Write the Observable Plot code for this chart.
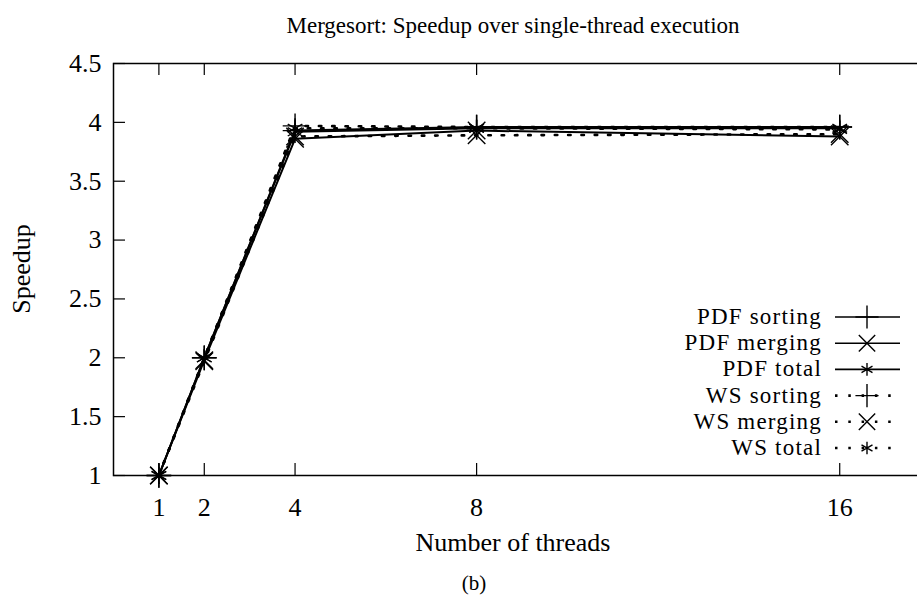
<!DOCTYPE html>
<html><head><meta charset="utf-8">
<script src="https://cdn.jsdelivr.net/npm/d3@7"></script>
<script src="https://cdn.jsdelivr.net/npm/@observablehq/plot@0.6"></script>
<style>html,body{margin:0;padding:0;overflow:hidden;background:#fff;width:917px;height:597px}
#chart svg{max-width:none !important;display:block}</style>
</head><body><div id="chart"></div>
<script>
const threads = [1, 2, 4, 8, 16];
const pdfSorting = [1, 2.00, 3.93, 3.96, 3.96];
const pdfMerging = [1, 1.98, 3.86, 3.93, 3.88];
const pdfTotal   = [1, 2.00, 3.92, 3.95, 3.95];
const wsSorting  = [1, 2.00, 3.97, 3.96, 3.96];
const wsMerging  = [1, 1.97, 3.88, 3.89, 3.90];
const wsTotal    = [1, 2.00, 3.95, 3.95, 3.94];
const seriesNames = ["PDF sorting", "PDF merging", "PDF total", "WS sorting", "WS merging", "WS total"];
const seriesValues = [pdfSorting, pdfMerging, pdfTotal, wsSorting, wsMerging, wsTotal];
const seriesSymbols = ["plus", "times", "asterisk", "plus", "times", "asterisk"];
const seriesDotted = [false, false, false, true, true, true];
const xTicks = [1, 2, 4, 8, 16];
const yTicks = [1, 1.5, 2, 2.5, 3, 3.5, 4, 4.5];
const yTickLabels = ["1", "1.5", "2", "2.5", "3", "3.5", "4", "4.5"];
const titleText = "Mergesort: Speedup over single-thread execution";
const xLabel = "Number of threads";
const yLabel = "Speedup";
const caption = "(b)";

const W = 931, H = 597, mL = 113, mR = 1, mT = 63, mB = 122;
const fh = H - mT - mB, fw = W - mL - mR;
const FONT = "'Liberation Serif', 'Times New Roman', serif";
const DOT = "2.5 10.8";

const data = [];
seriesNames.forEach((name, i) => threads.forEach((t, j) => data.push({
  series: name, threads: t, speedup: seriesValues[i][j], symbol: seriesSymbols[i], dotted: seriesDotted[i]
})));

const dotMarks = ["plus", "times", "asterisk"].map(s =>
  Plot.dot(data.filter(d => d.symbol === s), {x: "threads", y: "speedup", symbol: s, r: 8, stroke: "#000", strokeWidth: 1.4})
);

const plot = Plot.plot({
  width: W, height: H, marginLeft: mL, marginRight: mR, marginTop: mT, marginBottom: mB,
  style: {fontFamily: FONT, fontSize: "26px", background: "#fff", color: "#000", maxWidth: "none"},
  x: {domain: [0, 18]},
  y: {domain: [1, 4.5]},
  marks: [
    Plot.frame({stroke: "#000", strokeWidth: 1.5}),
    Plot.ruleX(xTicks, {x: d => d, y1: 4.5, y2: 1, insetTop: fh - 12, stroke: "#000", strokeWidth: 1.2}),
    Plot.ruleX(xTicks, {x: d => d, y1: 4.5, y2: 1, insetBottom: fh - 12, stroke: "#000", strokeWidth: 1.2}),
    Plot.ruleY(yTicks, {y: d => d, x1: 0, x2: 18, insetRight: fw - 12, stroke: "#000", strokeWidth: 1.2}),
    Plot.ruleY(yTicks, {y: d => d, x1: 0, x2: 18, insetLeft: fw - 12, stroke: "#000", strokeWidth: 1.2}),
    Plot.axisX({ticks: xTicks, tickSize: 0, tickPadding: 22, label: null, fontSize: 26, tickFormat: d => String(d)}),
    Plot.axisY({ticks: yTicks, tickSize: 0, tickPadding: 12, label: null, fontSize: 26, tickFormat: d => yTickLabels[yTicks.indexOf(d)]}),
    Plot.line(data.filter(d => !d.dotted), {x: "threads", y: "speedup", z: "series", stroke: "#000", strokeWidth: 2}),
    Plot.line(data.filter(d => d.dotted), {x: "threads", y: "speedup", z: "series", stroke: "#000", strokeWidth: 2.6, strokeDasharray: DOT}),
    ...dotMarks
  ]
});
document.getElementById("chart").appendChild(plot);

const svg = d3.select(plot);
svg.append("text").attr("x", 513).attr("y", 33).attr("text-anchor", "middle")
  .attr("font-family", FONT).attr("font-size", 23).attr("fill", "#000").text(titleText);
svg.append("text").attr("transform", "translate(30,269) rotate(-90)").attr("text-anchor", "middle")
  .attr("font-family", FONT).attr("font-size", 26).attr("fill", "#000").text(yLabel);
svg.append("text").attr("x", 513).attr("y", 551).attr("text-anchor", "middle")
  .attr("font-family", FONT).attr("font-size", 26).attr("fill", "#000").text(xLabel);
svg.append("text").attr("x", 474).attr("y", 590).attr("text-anchor", "middle")
  .attr("font-family", FONT).attr("font-size", 21).attr("fill", "#000").text(caption);

const symMap = {plus: d3.symbolPlus, times: d3.symbolTimes, asterisk: d3.symbolAsterisk};
const lg = svg.append("g");
seriesNames.forEach((name, i) => {
  const cy = 317 + i * 26.2;
  lg.append("text").attr("x", 822).attr("y", cy + 7).attr("text-anchor", "end")
    .attr("font-family", FONT).attr("font-size", 23).attr("letter-spacing", 1.2).attr("fill", "#000").text(name);
  const ln = lg.append("line").attr("x1", 835).attr("x2", 900).attr("y1", cy).attr("y2", cy)
    .attr("stroke", "#000").attr("stroke-width", seriesDotted[i] ? 2.6 : 1.6);
  if (seriesDotted[i]) ln.attr("stroke-dasharray", DOT);
  const rr = seriesSymbols[i] === "asterisk" ? 6 : 7.5;
  lg.append("path").attr("transform", `translate(867,${cy})`)
    .attr("d", d3.symbol(symMap[seriesSymbols[i]], Math.PI * rr * rr)())
    .attr("fill", "none").attr("stroke", "#000").attr("stroke-width", 1.4);
});
</script></body></html>
